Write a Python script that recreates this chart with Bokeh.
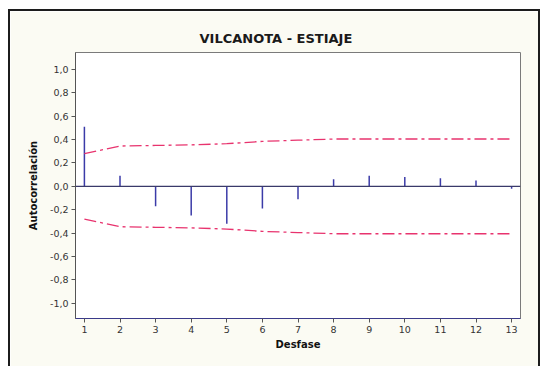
from bokeh.plotting import figure
from bokeh.models import FixedTicker, Range1d, Span, Title, ColumnDataSource
from bokeh.embed import file_html
from bokeh.resources import INLINE

lags = [1, 2, 3, 4, 5, 6, 7, 8, 9, 10, 11, 12, 13]
acf = [0.51, 0.09, -0.17, -0.25, -0.32, -0.19, -0.11, 0.06, 0.09, 0.08, 0.07, 0.05, -0.02]
upper = [0.28, 0.345, 0.35, 0.355, 0.365, 0.385, 0.395, 0.405, 0.405, 0.405, 0.405, 0.405, 0.405]
lower = [-u for u in upper]
y_ticks = [-1.0, -0.8, -0.6, -0.4, -0.2, 0.0, 0.2, 0.4, 0.6, 0.8, 1.0]
y_tick_labels = ["-1,0", "-0,8", "-0,6", "-0,4", "-0,2", "0,0", "0,2", "0,4", "0,6", "0,8", "1,0"]

FONT = "DejaVu Sans"

W, H = 528, 355
p = figure(
    width=W, height=H, output_backend="svg", toolbar_location=None,
    x_range=Range1d(0.75, 13.25), y_range=Range1d(-1.13, 1.145),
    min_border_left=65, min_border_right=18, min_border_top=41, min_border_bottom=48,
)
p.margin = (11, 7, 0, 10)
p.styles = {"outline": "2px solid #1c1c1c", "outline-offset": "0px"}
p.frame_width = 445
p.frame_height = 266
p.background_fill_color = "white"
p.border_fill_color = "#fbfbf3"
p.outline_line_color = "#7a7a7a"
p.outline_line_width = 1

p.title = Title(text="VILCANOTA - ESTIAJE", align="left", offset=124,
                text_font=FONT, text_font_size="13px", text_font_style="bold",
                text_color="#1a1a1a", standoff=14)

p.xgrid.visible = False
p.ygrid.visible = False

src = ColumnDataSource(dict(lag=lags, acf=acf, zero=[0] * len(lags), upper=upper, lower=lower))

p.add_layout(Span(location=0, dimension="width", line_color="#3a3a6a", line_width=1.2))
p.segment(x0="lag", y0="zero", x1="lag", y1="acf", source=src, line_color="#3b3ba8", line_width=1.5)
p.line(x="lag", y="upper", source=src, line_color="#e8336e", line_width=1.3, line_dash="12 4 3 4")
p.line(x="lag", y="lower", source=src, line_color="#e8336e", line_width=1.3, line_dash="12 4 3 4")

p.xaxis.ticker = FixedTicker(ticks=lags)
p.yaxis.ticker = FixedTicker(ticks=y_ticks)
p.yaxis.major_label_overrides = {t: l for t, l in zip(y_ticks, y_tick_labels)}
p.xaxis.axis_label = "Desfase"
p.yaxis.axis_label = "Autocorrelación"

for ax in (p.xaxis[0], p.yaxis[0]):
    ax.major_label_text_font = FONT
    ax.major_label_text_font_size = "9.5px"
    ax.major_label_text_color = "#333333"
    ax.axis_label_text_font = FONT
    ax.axis_label_text_font_size = "10px"
    ax.axis_label_text_font_style = "bold"
    ax.axis_label_text_color = "#111111"
    ax.major_tick_in = 0
    ax.major_tick_out = 4
    ax.minor_tick_line_color = None
    ax.major_tick_line_color = "#555555"
    ax.axis_line_color = "#555555"
    ax.major_label_standoff = 3

p.xaxis.axis_line_color = "#3a3a8a"
p.xaxis.axis_label_standoff = 3
p.yaxis.axis_label_standoff = 8

open("out.html", "w").write(file_html(p, INLINE))
